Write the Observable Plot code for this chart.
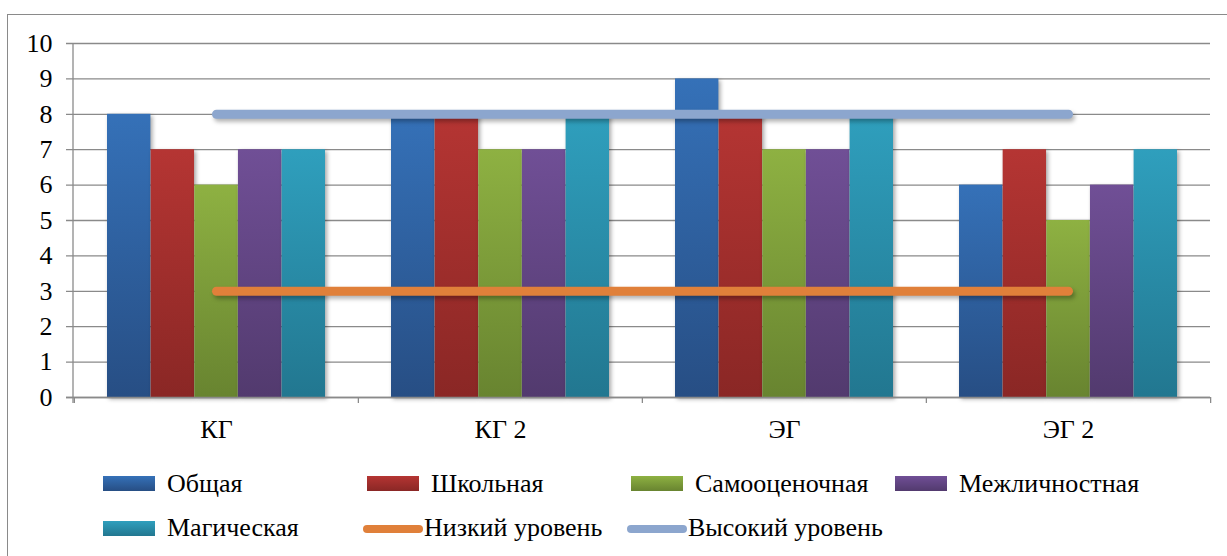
<!DOCTYPE html>
<html><head><meta charset="utf-8">
<script src="https://cdn.jsdelivr.net/npm/d3@7"></script>
<script src="https://cdn.jsdelivr.net/npm/@observablehq/plot@0.6"></script>
<style>
body{margin:0;background:#fff;width:1227px;height:556px;overflow:hidden;position:relative;font-family:"Liberation Serif","Times New Roman","DejaVu Serif",serif;}
#frame{position:absolute;left:7px;top:14px;width:1240px;height:560px;border:1.5px solid #8a8a8a;}
#chart{position:absolute;left:0;top:0;}
.leg{position:absolute;font-size:26px;color:#000;white-space:nowrap;line-height:1;font-family:"Liberation Serif","Times New Roman",serif;}
.sw{position:absolute;width:52px;height:15px}
.ln{position:absolute;height:8px;border-radius:4px}
g[aria-label="bar"]{filter:drop-shadow(2px 2px 2px rgba(0,0,0,0.35));}
g[aria-label="line"]{filter:drop-shadow(2px 3px 2px rgba(0,0,0,0.3));}
svg text{font-family:"Liberation Serif","Times New Roman",serif;}
</style></head><body>
<div id="frame"></div><div id="chart"></div><div id="legend"></div>
<script>
// ---- data ----
const groups = ["КГ", "КГ 2", "ЭГ", "ЭГ 2"];
const seriesNames = ["Общая", "Школьная", "Самооценочная", "Межличностная", "Магическая"];
const obshaya = [8, 8, 9, 6];
const shkolnaya = [7, 8, 8, 7];
const samoocenochnaya = [6, 7, 7, 5];
const mezhlichnostnaya = [7, 7, 7, 6];
const magicheskaya = [7, 8, 8, 7];
const lowLevel = [3, 3, 3, 3];
const highLevel = [8, 8, 8, 8];
const lineNames = ["Низкий уровень", "Высокий уровень"];
const yTicks = [0, 1, 2, 3, 4, 5, 6, 7, 8, 9, 10];

// ---- styles ----
const gradTop = ["#3571b8", "#b53533", "#8eb142", "#704f96", "#2f9fbd"];
const gradBot = ["#274e84", "#8a2725", "#688430", "#523a6e", "#227790"];
const lineColors = ["#e0803a", "#8ca6ce"];

const seriesValues = [obshaya, shkolnaya, samoocenochnaya, mezhlichnostnaya, magicheskaya];
const table = seriesValues.map((vals, i) => groups.map((g, j) => ({group: g, series: seriesNames[i], value: vals[j]})));
const lines = [lowLevel, highLevel].map((vals, i) => groups.map((g, j) => ({group: g, name: lineNames[i], value: vals[j]})));

const W = 1227, mL = 73, mR = 17, mT = 43, mB = 60, H = 457;
const bw = (W - mL - mR) / groups.length;
const gap = 33;
const barW = (bw - 2 * gap) / seriesNames.length;

const marks = [
  Plot.ruleY(yTicks, {stroke: "#8a8a8a", strokeWidth: 1.3, insetLeft: -7}),
  ...table.map((d, i) => Plot.barY(d, {
    x: "group", y: "value", fill: `url(#g${i})`,
    insetLeft: gap + i * barW, insetRight: bw - gap - (i + 1) * barW
  })),
  ...lines.map((d, i) => Plot.lineY(d, {x: "group", y: "value", stroke: lineColors[i], strokeWidth: 9, strokeLinecap: "round"})),
  Plot.ruleX(groups, {x: d => d, dx: -bw / 2, y1: 0, y2: -0.17, stroke: "#8a8a8a", strokeWidth: 1.3}),
  Plot.ruleX([groups[groups.length - 1]], {x: d => d, dx: bw / 2, y1: 0, y2: -0.17, stroke: "#8a8a8a", strokeWidth: 1.3}),
  Plot.ruleY([0], {stroke: "#8a8a8a", strokeWidth: 1.3, insetLeft: -7})
];

const svg = Plot.plot({
  width: W, height: H,
  marginLeft: mL, marginRight: mR, marginTop: mT, marginBottom: mB,
  style: {background: "transparent", fontFamily: "'Liberation Serif', 'Times New Roman', serif", fontSize: "26px", color: "#000"},
  x: {domain: groups, padding: 0, tickSize: 0, tickPadding: 22, label: null},
  y: {domain: [0, 10], ticks: yTicks, tickSize: 0, tickPadding: 21, label: null, line: false},
  marks
});

// gradients
const defs = d3.select(svg).insert("defs", ":first-child");
gradTop.forEach((c, i) => {
  const lg = defs.append("linearGradient").attr("id", `g${i}`).attr("x1", 0).attr("y1", 0).attr("x2", 0).attr("y2", 1);
  lg.append("stop").attr("offset", "0%").attr("stop-color", c);
  lg.append("stop").attr("offset", "100%").attr("stop-color", gradBot[i]);
});
// y axis line
const ys = svg.scale("y");
d3.select(svg).append("line").attr("x1", mL).attr("x2", mL).attr("y1", ys.apply(10)).attr("y2", ys.apply(0) + 6).attr("stroke", "#8a8a8a").attr("stroke-width", 1.3);
document.getElementById("chart").appendChild(svg);

// ---- legend ----
const leg = document.getElementById("legend");
const rectItems = [
  {i: 0, sx: 103, tx: 167, sy: 476, ty: 471},
  {i: 1, sx: 367, tx: 431, sy: 476, ty: 471},
  {i: 2, sx: 631, tx: 695, sy: 476, ty: 471},
  {i: 3, sx: 895, tx: 959, sy: 476, ty: 471},
  {i: 4, sx: 103, tx: 167, sy: 521, ty: 515}
];
rectItems.forEach(o => {
  const s = document.createElement("div");
  s.className = "sw";
  s.style.left = o.sx + "px"; s.style.top = o.sy + "px";
  s.style.background = `linear-gradient(${gradTop[o.i]}, ${gradBot[o.i]})`;
  leg.appendChild(s);
  const t = document.createElement("div");
  t.className = "leg"; t.textContent = seriesNames[o.i];
  t.style.left = o.tx + "px"; t.style.top = o.ty + "px";
  leg.appendChild(t);
});
const lineItems = [
  {i: 0, sx: 363, tx: 424, sy: 525, ty: 515},
  {i: 1, sx: 627, tx: 688, sy: 525, ty: 515}
];
lineItems.forEach(o => {
  const s = document.createElement("div");
  s.className = "ln";
  s.style.left = o.sx + "px"; s.style.top = o.sy + "px"; s.style.width = "60px";
  s.style.background = lineColors[o.i];
  leg.appendChild(s);
  const t = document.createElement("div");
  t.className = "leg"; t.textContent = lineNames[o.i];
  t.style.left = o.tx + "px"; t.style.top = o.ty + "px";
  leg.appendChild(t);
});
</script>
</body></html>
